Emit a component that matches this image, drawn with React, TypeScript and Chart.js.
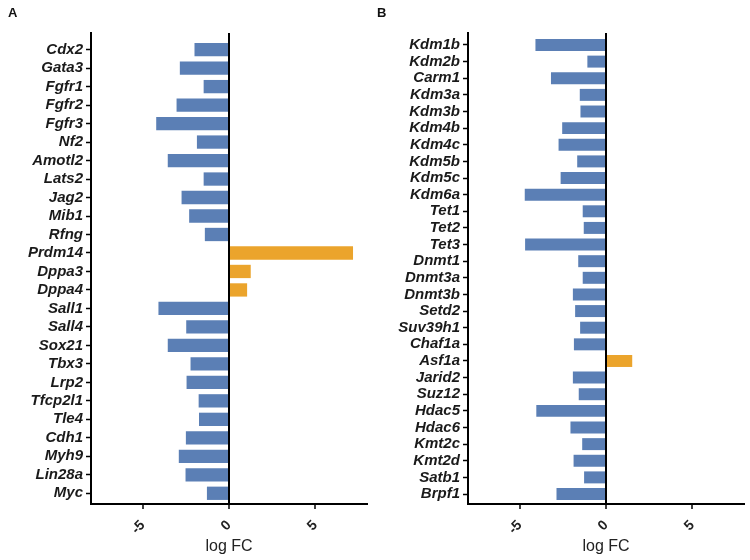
import React, { useEffect, useRef } from "react";
import { Chart, registerables } from "chart.js";

Chart.register(...registerables);

const genesA = [
  "Cdx2", "Gata3", "Fgfr1", "Fgfr2", "Fgfr3", "Nf2", "Amotl2", "Lats2", "Jag2", "Mib1",
  "Rfng", "Prdm14", "Dppa3", "Dppa4", "Sall1", "Sall4", "Sox21", "Tbx3", "Lrp2", "Tfcp2l1",
  "Tle4", "Cdh1", "Myh9", "Lin28a", "Myc",
];
const valuesA = [
  -2.0, -2.85, -1.47, -3.04, -4.22, -1.86, -3.55, -1.47, -2.75, -2.31,
  -1.4, 7.19, 1.26, 1.05, -4.09, -2.48, -3.55, -2.23, -2.46, -1.76,
  -1.74, -2.5, -2.91, -2.52, -1.28,
];

const genesB = [
  "Kdm1b", "Kdm2b", "Carm1", "Kdm3a", "Kdm3b", "Kdm4b", "Kdm4c", "Kdm5b", "Kdm5c", "Kdm6a",
  "Tet1", "Tet2", "Tet3", "Dnmt1", "Dnmt3a", "Dnmt3b", "Setd2", "Suv39h1", "Chaf1a", "Asf1a",
  "Jarid2", "Suz12", "Hdac5", "Hdac6", "Kmt2c", "Kmt2d", "Satb1", "Brpf1",
];
const valuesB = [
  -4.09, -1.08, -3.19, -1.52, -1.48, -2.54, -2.75, -1.67, -2.63, -4.71,
  -1.35, -1.29, -4.69, -1.61, -1.35, -1.92, -1.79, -1.5, -1.86, 1.52,
  -1.92, -1.58, -4.04, -2.06, -1.38, -1.88, -1.27, -2.87,
];

const xTickValues = [-5, 0, 5];
const xMin = -8;
const xMax = 8;
const axisTitle = "log FC";

const BLUE = "#5b7fb5";
const ORANGE = "#eba42c";
const FONT = "'Liberation Sans', Arial, Helvetica, sans-serif";

type PanelProps = {
  genes: string[];
  values: number[];
  yMin: number;
  yMax: number;
  axisWidth: number;
  padRight: number;
  left: number;
  letter: string;
  letterLeft: number;
};

function Panel({ genes, values, yMin, yMax, axisWidth, padRight, left, letter, letterLeft }: PanelProps) {
  const ref = useRef<HTMLCanvasElement | null>(null);
  useEffect(() => {
    if (!ref.current) return;
    const chart = new Chart(ref.current, {
      type: "bar",
      data: {
        datasets: [
          {
            data: values.map((v, i) => ({ x: v, y: i })),
            backgroundColor: values.map((v) => (v > 0 ? ORANGE : BLUE)),
            borderWidth: 0,
            barPercentage: 0.72,
            categoryPercentage: 1,
          },
        ],
      },
      options: {
        indexAxis: "y",
        responsive: false,
        animation: false,
        layout: { padding: { top: 33, right: padRight, left: 0, bottom: 0 } },
        plugins: { legend: { display: false }, tooltip: { enabled: false } },
        scales: {
          x: {
            type: "linear",
            min: xMin,
            max: xMax,
            offset: false,
            afterBuildTicks: (scale: any) => {
              scale.ticks = xTickValues.map((v) => ({ value: v }));
            },
            afterFit: (scale: any) => {
              scale.height = 56;
            },
            border: { display: true, color: "#000", width: 2 },
            grid: {
              offset: false,
              drawOnChartArea: true,
              drawTicks: true,
              tickLength: 5,
              tickColor: "#000",
              tickWidth: 1.5,
              color: (ctx: any) => (ctx.tick && ctx.tick.value === 0 ? "#000" : "rgba(0,0,0,0)"),
              lineWidth: 2,
            },
            ticks: {
              minRotation: 45,
              maxRotation: 45,
              padding: 8,
              color: "#222",
              font: { family: FONT, size: 14, weight: "bold" },
            },
            title: {
              display: true,
              text: axisTitle,
              color: "#222",
              font: { family: FONT, size: 16 },
              padding: { top: 2, bottom: 4 },
            },
          },
          y: {
            type: "linear",
            reverse: true,
            min: yMin,
            max: yMax,
            offset: false,
            afterBuildTicks: (scale: any) => {
              scale.ticks = genes.map((_, i) => ({ value: i }));
            },
            afterFit: (scale: any) => {
              scale.width = axisWidth;
            },
            border: { display: true, color: "#000", width: 2 },
            grid: {
              offset: false,
              drawOnChartArea: false,
              drawTicks: true,
              tickLength: 5,
              tickColor: "#000",
              tickWidth: 1.5,
            },
            ticks: {
              autoSkip: false,
              padding: 3,
              color: "#1a1a1a",
              font: { family: FONT, size: 15, weight: "bold", style: "italic" },
              callback: (v: any) => genes[Math.round(Number(v))] ?? "",
            },
          },
        },
      },
    } as any);
    return () => chart.destroy();
  }, []);
  return (
    <div style={{ position: "absolute", left, top: 0, width: 375, height: 560 }}>
      <canvas ref={ref} width={375} height={560} style={{ width: 375, height: 560 }} />
      <div
        style={{
          position: "absolute",
          left: letterLeft,
          top: 5,
          font: `bold 13px ${FONT}`,
          lineHeight: "15px",
          color: "#111",
        }}
      >
        {letter}
      </div>
    </div>
  );
}

export default function App() {
  return (
    <div style={{ position: "absolute", left: 0, top: 0, width: 750, height: 560, background: "#fff" }}>
      <Panel genes={genesA} values={valuesA} yMin={-0.9} yMax={24.58} axisWidth={91} padRight={8} left={0} letter="A" letterLeft={8} />
      <Panel genes={genesB} values={valuesB} yMin={-0.72} yMax={27.6} axisWidth={93} padRight={6} left={375} letter="B" letterLeft={2} />
    </div>
  );
}
